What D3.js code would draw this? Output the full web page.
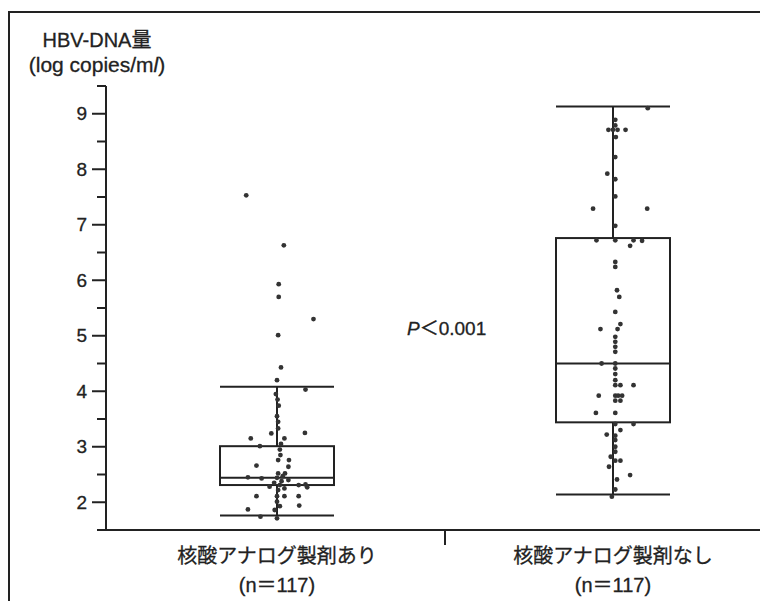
<html>
<head>
<meta charset="utf-8">
<title>HBV-DNA</title>
<style>
  body { margin: 0; background: #fff; }
  text { font-family: "Liberation Sans", Arial, "Noto Sans CJK JP", sans-serif; fill: #222; stroke: #222; stroke-width: 0.3px; }
</style>
</head>
<body>
<script src="https://d3js.org/d3.v7.min.js"></script>
<script>
var w = 760;
var h = 601;

// groups and box stats
var groups = ["核酸アナログ製剤あり", "核酸アナログ製剤なし"];
var nLabels = ["(n＝117)", "(n＝117)"];
var whiskerLow = [1.76, 2.14];
var q1 = [2.31, 3.44];
var median = [2.44, 4.50];
var q3 = [3.01, 6.76];
var whiskerHigh = [4.08, 9.13];
var yTicks = [2, 3, 4, 5, 6, 7, 8, 9];

// individual points (value, jitter in box half-widths)
var withValues = [7.53, 6.63, 5.93, 5.70, 5.30, 5.01, 4.43, 4.20, 4.03, 3.95, 3.85, 3.74, 3.55, 3.45, 3.33, 3.24, 3.25, 3.15, 3.15, 3.05, 3.01, 2.95, 2.85, 2.76, 2.76, 2.64, 2.66, 2.52, 2.52, 2.47, 2.45, 2.43, 2.44, 2.40, 2.38, 2.35, 2.28, 2.31, 2.25, 2.31, 2.32, 2.27, 2.22, 2.11, 2.11, 2.11, 2.11, 2.01, 1.93, 1.94, 1.87, 1.86, 1.74, 1.71];
var withJitter = [-0.54, 0.12, 0.03, 0.03, 0.64, 0.02, 0.07, 0, 0.5, -0.02, 0.01, 0.03, 0, 0.02, 0.02, -0.1, 0.49, -0.46, 0.13, 0.07, -0.3, 0.05, 0.06, 0.02, 0.21, 0.2, -0.36, 0.02, 0.14, 0.1, -0.51, -0.27, 0, 0.2, 0.08, -0.05, -0.13, 0.05, 0.13, 0.38, 0.5, 0.53, 0.02, -0.36, 0, 0.13, 0.38, 0, 0.05, 0.39, -0.51, -0.04, -0.29, 0];
var withoutValues = [9.10, 8.89, 8.79, 8.71, 8.71, 8.71, 8.71, 8.58, 8.22, 7.92, 7.82, 7.51, 7.29, 7.29, 6.98, 6.72, 6.72, 6.72, 6.71, 6.62, 6.33, 6.24, 5.82, 5.70, 5.43, 5.21, 5.12, 5.12, 4.98, 4.89, 4.80, 4.71, 4.50, 4.50, 4.41, 4.31, 4.20, 4.11, 4.11, 4.11, 3.92, 3.92, 3.92, 3.92, 3.83, 3.83, 3.61, 3.61, 3.41, 3.41, 3.30, 3.22, 3.20, 3.12, 3.00, 2.91, 2.82, 2.75, 2.75, 2.64, 2.49, 2.41, 2.23, 2.10];
var withoutJitter = [0.61, 0.04, 0.04, -0.08, 0, 0.08, 0.22, 0.05, 0.04, -0.1, 0.04, 0.04, -0.35, 0.6, 0.04, -0.29, 0.04, 0.36, 0.51, 0.3, 0.04, 0.04, 0.07, 0.11, 0.04, 0.13, -0.22, 0.08, 0.04, 0.04, 0.04, 0.04, -0.2, 0.04, 0.04, 0.04, 0.04, 0.13, 0.36, 0.04, -0.25, 0.04, 0.09, 0.16, 0.04, 0.13, -0.3, 0.04, 0.36, 0.04, 0.13, -0.11, 0.04, 0.04, 0.04, 0.04, -0.04, 0.13, 0.04, -0.07, 0.3, 0.07, 0.04, -0.02];

var svg = d3.select('body')
            .append('svg')
            .attr('width', w)
            .attr('height', h);

// outer frame (top + left only)
svg.append('path')
   .attr('d', 'M9,601 L9,12 L760,12')
   .attr('fill', 'none')
   .attr('stroke', '#222')
   .attr('stroke-width', 2);

var y = d3.scaleLinear().domain([1.5, 9.5]).range([530, 86]);
var x = d3.scaleBand().domain(groups).range([109, 781]);
var boxW = 114;
var jit = d3.scaleLinear().domain([-1, 1]).range([-boxW / 2, boxW / 2]);

// y axis
var yAxis = svg.append('g').attr('transform', 'translate(106,0)');
yAxis.append('line')
     .attr('y1', y(9.5)).attr('y2', y(1.5))
     .attr('stroke', '#222').attr('stroke-width', 2);
yAxis.selectAll('.major')
     .data(yTicks)
     .enter()
     .append('line')
     .attr('x1', -14).attr('x2', 0)
     .attr('y1', d => y(d)).attr('y2', d => y(d))
     .attr('stroke', '#222').attr('stroke-width', 2);
yAxis.selectAll('.minor')
     .data(yTicks.map(d => d + 0.5))
     .enter()
     .append('line')
     .attr('x1', -9).attr('x2', 0)
     .attr('y1', d => y(d)).attr('y2', d => y(d))
     .attr('stroke', '#222').attr('stroke-width', 2);
yAxis.selectAll('.lbl')
     .data(yTicks)
     .enter()
     .append('text')
     .attr('x', -19)
     .attr('y', d => y(d))
     .attr('dy', '0.35em')
     .attr('text-anchor', 'end')
     .style('font-size', '19px')
     .text(d => d);

// y title
svg.append('text')
   .attr('x', 97).attr('y', 47)
   .attr('text-anchor', 'middle')
   .style('font-size', '20px')
   .text('HBV-DNA量');
var t2 = svg.append('text')
   .attr('x', 97).attr('y', 72)
   .attr('text-anchor', 'middle')
   .style('font-size', '21px');
t2.append('tspan').text('(log copies/m');
t2.append('tspan').style('font-style', 'italic').text('l');
t2.append('tspan').text(')');

// x axis
svg.append('line')
   .attr('x1', 97).attr('x2', 760)
   .attr('y1', y(1.5)).attr('y2', y(1.5))
   .attr('stroke', '#222').attr('stroke-width', 2);
svg.append('line')
   .attr('x1', x(groups[1])).attr('x2', x(groups[1]))
   .attr('y1', y(1.5)).attr('y2', y(1.5) + 15)
   .attr('stroke', '#222').attr('stroke-width', 2);

var lbl = svg.selectAll('.xlbl')
   .data(groups)
   .enter()
   .append('text')
   .attr('text-anchor', 'middle')
   .style('font-size', '20px');
lbl.append('tspan')
   .attr('x', d => x(d) + x.bandwidth() / 2)
   .attr('y', 563)
   .text(d => d);
lbl.append('tspan')
   .attr('x', d => x(d) + x.bandwidth() / 2)
   .attr('y', 592)
   .text((d, i) => nLabels[i]);

// boxes
groups.forEach(function(g, i) {
    var cx = x(g) + x.bandwidth() / 2;
    var bx = svg.append('g').attr('fill', 'none').attr('stroke', '#222').attr('stroke-width', 2);
    bx.append('line').attr('x1', cx).attr('x2', cx).attr('y1', y(whiskerHigh[i])).attr('y2', y(q3[i]));
    bx.append('line').attr('x1', cx).attr('x2', cx).attr('y1', y(q1[i])).attr('y2', y(whiskerLow[i]));
    [whiskerHigh[i], whiskerLow[i], median[i]].forEach(function(v) {
        bx.append('line')
          .attr('x1', cx - boxW / 2).attr('x2', cx + boxW / 2)
          .attr('y1', y(v)).attr('y2', y(v));
    });
    bx.append('rect')
      .attr('x', cx - boxW / 2).attr('width', boxW)
      .attr('y', y(q3[i])).attr('height', y(q1[i]) - y(q3[i]));
});

// points
var pts = [
    withValues.map((v, i) => ({g: groups[0], v: v, j: withJitter[i]})),
    withoutValues.map((v, i) => ({g: groups[1], v: v, j: withoutJitter[i]}))
];
svg.selectAll('circs')
   .data(pts[0].concat(pts[1]))
   .enter()
   .append('circle')
   .attr('cx', d => x(d.g) + x.bandwidth() / 2 + jit(d.j))
   .attr('cy', d => y(d.v))
   .attr('r', 2.4)
   .attr('fill', '#333');

// p value
var p = svg.append('text')
   .attr('x', 407).attr('y', 335)
   .style('font-size', '19px');
p.append('tspan').style('font-style', 'italic').text('P');
p.append('tspan').text('＜0.001');
</script>
</body>
</html>
